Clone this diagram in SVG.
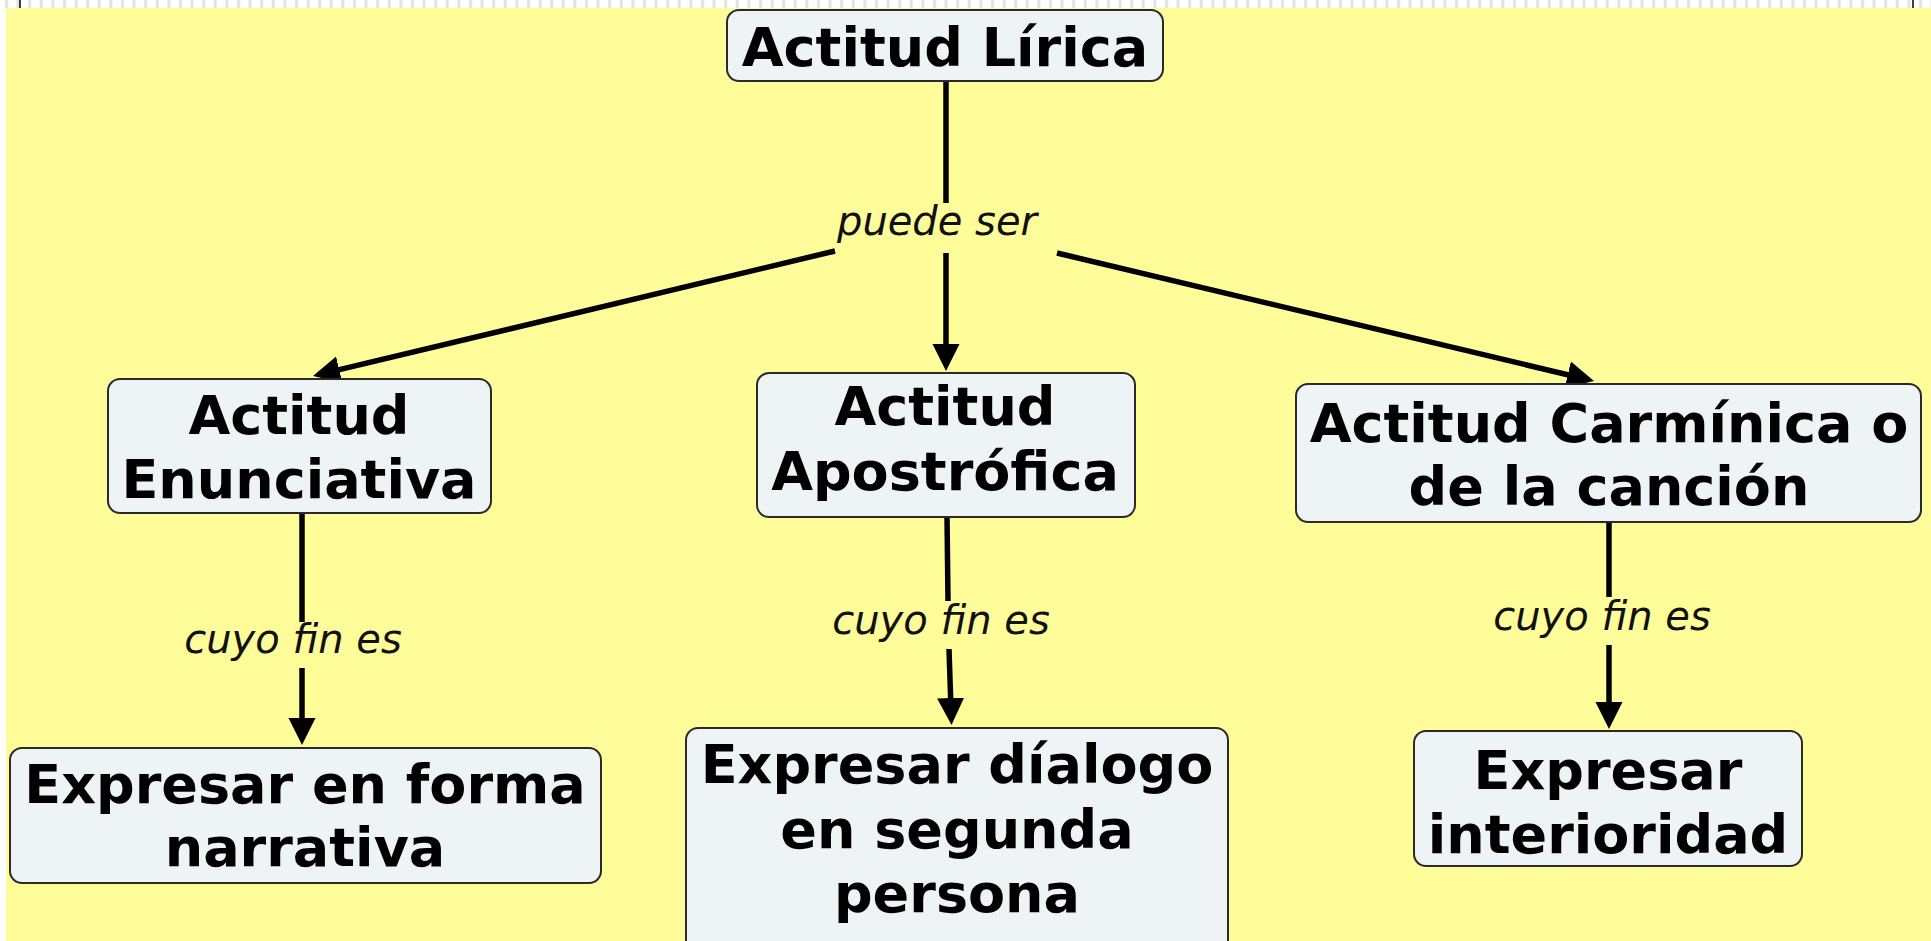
<svg xmlns="http://www.w3.org/2000/svg" width="1931" height="941" viewBox="0 0 1931 941">
<defs>
<pattern id="ticks" x="0" y="0" width="11.6" height="8" patternUnits="userSpaceOnUse">
<rect x="5" y="0" width="3" height="8" fill="#e2e2e2"/>
</pattern>
<marker id="arr" markerUnits="userSpaceOnUse" markerWidth="28" markerHeight="28" refX="0" refY="13.5" orient="auto" viewBox="-2 0 28 27">
<path d="M-2,0 L25,13.5 L-2,27 z" fill="#000"/>
</marker>
<style>
.bg{fill:#FFFD99}
.box{fill:#EEF3F6;stroke:#2a2a2a;stroke-width:2}
.nt{font-family:"DejaVu Sans","Verdana",sans-serif;font-weight:bold;font-size:54px;fill:#000;text-anchor:middle}
.lt{font-family:"DejaVu Sans","Verdana",sans-serif;font-style:italic;font-size:40px;fill:#111;text-anchor:middle}
.ln{stroke:#000;stroke-width:5.5;fill:none}
</style>
</defs>
<rect x="0" y="0" width="1931" height="941" fill="#fff"/>
<rect x="0" y="0" width="1931" height="8" fill="url(#ticks)"/>
<rect class="bg" x="6" y="8" width="1925" height="933"/>
<line x1="20" y1="0" x2="20" y2="8" stroke="#000" stroke-width="1.5"/>
<line x1="1913" y1="0" x2="1913" y2="8" stroke="#000" stroke-width="1.5"/>

<g id="connectors">
<line class="ln" x1="946" y1="81" x2="946" y2="203"/>
<line class="ln" x1="835" y1="251" x2="337.3" y2="370.2" marker-end="url(#arr)"/>
<line class="ln" x1="946" y1="253" x2="946" y2="346" marker-end="url(#arr)"/>
<line class="ln" x1="1057" y1="253" x2="1569.7" y2="375.2" marker-end="url(#arr)"/>
<line class="ln" x1="302" y1="514" x2="302" y2="622"/>
<line class="ln" x1="302" y1="668" x2="302" y2="720" marker-end="url(#arr)"/>
<line class="ln" x1="947" y1="517" x2="948" y2="601"/>
<line class="ln" x1="949" y1="649" x2="950.7" y2="700" marker-end="url(#arr)"/>
<line class="ln" x1="1609" y1="522" x2="1609" y2="597"/>
<line class="ln" x1="1609" y1="645" x2="1609" y2="704" marker-end="url(#arr)"/>
<text class="lt" x="937" y="235">puede ser</text>
<text class="lt" x="293" y="653">cuyo fin es</text>
<text class="lt" x="941" y="634">cuyo fin es</text>
<text class="lt" x="1602" y="630">cuyo fin es</text>
</g>

<g id="n-lirica">
<rect class="box" x="727" y="10" width="436" height="71" rx="12"/>
<text class="nt" x="945" y="66">Actitud Lírica</text>
</g>
<g id="n-enunciativa">
<rect class="box" x="108" y="379" width="383" height="134" rx="12"/>
<text class="nt" x="299" y="434">Actitud</text>
<text class="nt" x="299" y="498">Enunciativa</text>
</g>
<g id="n-apostrofica">
<rect class="box" x="757" y="373" width="378" height="144" rx="12"/>
<text class="nt" x="945" y="425">Actitud</text>
<text class="nt" x="945" y="490">Apostrófica</text>
</g>
<g id="n-carminica">
<rect class="box" x="1296" y="384" width="625" height="138" rx="12"/>
<text class="nt" x="1609" y="442">Actitud Carmínica o</text>
<text class="nt" x="1609" y="505">de la canción</text>
</g>
<g id="n-narrativa">
<rect class="box" x="10" y="748" width="591" height="135" rx="12"/>
<text class="nt" x="305" y="803">Expresar en forma</text>
<text class="nt" x="305" y="866">narrativa</text>
</g>
<g id="n-dialogo">
<rect class="box" x="686" y="728" width="542" height="225" rx="12"/>
<text class="nt" x="957" y="783">Expresar díalogo</text>
<text class="nt" x="957" y="848">en segunda</text>
<text class="nt" x="957" y="912">persona</text>
</g>
<g id="n-interioridad">
<rect class="box" x="1414" y="731" width="388" height="135" rx="12"/>
<text class="nt" x="1608" y="789">Expresar</text>
<text class="nt" x="1608" y="853">interioridad</text>
</g>
</svg>
